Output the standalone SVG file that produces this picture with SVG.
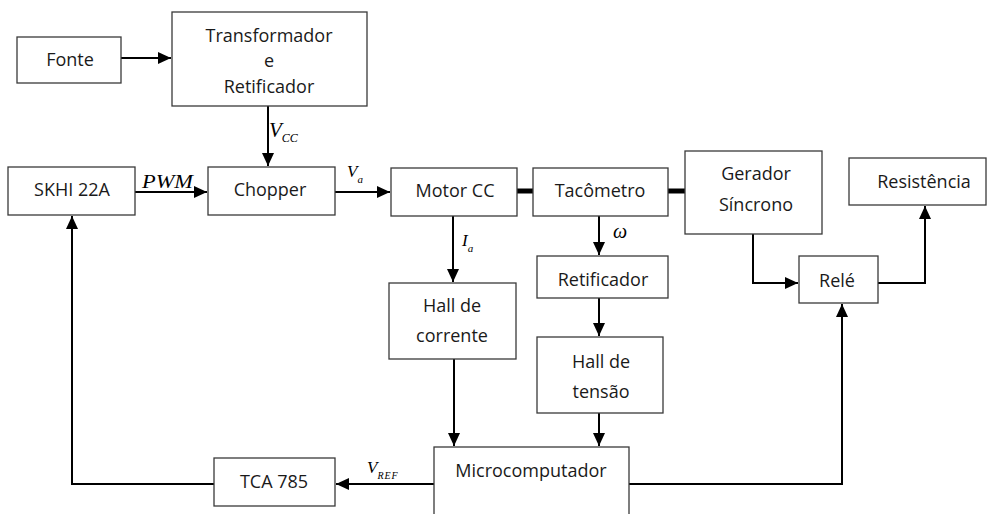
<svg xmlns="http://www.w3.org/2000/svg" width="987" height="514" viewBox="0 0 987 514">
<style>
.box{fill:#fff;stroke:#3a3a3a;stroke-width:1.3}
.t{font-family:"Open Sans","Liberation Sans",sans-serif;font-size:18px;fill:#1a1a1a;text-anchor:middle}
.m{font-family:"Liberation Serif",serif;font-style:italic;fill:#000}
.c{fill:none;stroke:#000;stroke-width:2}
.k{fill:none;stroke:#000;stroke-width:5}
</style>
<defs>
<marker id="ah" markerUnits="userSpaceOnUse" markerWidth="14" markerHeight="12" refX="13" refY="6" orient="auto">
<path d="M0,0 L13,6 L0,12 Z" fill="#000"/>
</marker>
</defs>
<rect width="987" height="514" fill="#fff"/>
<g id="connectors">
<path class="c" d="M121,58 H171" marker-end="url(#ah)"/>
<path class="c" d="M268,106 V166" marker-end="url(#ah)"/>
<path class="c" d="M135,192 H207" marker-end="url(#ah)"/>
<path class="c" d="M335,192 H390" marker-end="url(#ah)"/>
<path class="k" d="M517,191 H533"/>
<path class="k" d="M668,191 H685"/>
<path class="c" d="M453,216 V282" marker-end="url(#ah)"/>
<path class="c" d="M599,216 V255" marker-end="url(#ah)"/>
<path class="c" d="M599,298 V336" marker-end="url(#ah)"/>
<path class="c" d="M454,359 V446" marker-end="url(#ah)"/>
<path class="c" d="M599,413 V446" marker-end="url(#ah)"/>
<path class="c" d="M434,484 H336" marker-end="url(#ah)"/>
<path class="c" d="M214,484 H72 V216" marker-end="url(#ah)"/>
<path class="c" d="M753,234 V283 H798" marker-end="url(#ah)"/>
<path class="c" d="M878,283 H925 V206" marker-end="url(#ah)"/>
<path class="c" d="M629,484 H842 V304" marker-end="url(#ah)"/>
<text class="m" x="269" y="137" font-size="21">V<tspan font-size="12" dy="5">CC</tspan></text>
<text class="m" x="142" y="188" font-size="18" textLength="51" lengthAdjust="spacingAndGlyphs">PWM</text>
<text class="m" x="347" y="177" font-size="17">V<tspan font-size="11" dy="6">a</tspan></text>
<text class="m" x="462" y="246" font-size="17">I<tspan font-size="11" dy="6">a</tspan></text>
<text class="m" x="613" y="238" font-size="20">ω</text>
<text class="m" x="367" y="473" font-size="17">V<tspan font-size="10" dy="6" letter-spacing="1">REF</tspan></text>
</g>
<g id="fonte"><rect class="box" x="17" y="37" width="104" height="46"/><text class="t" x="70" y="66">Fonte</text></g>
<g id="transformador"><rect class="box" x="172" y="12" width="195" height="94"/><text class="t" x="269" y="42">Transformador</text><text class="t" x="269" y="67">e</text><text class="t" x="269" y="93">Retificador</text></g>
<g id="skhi"><rect class="box" x="8" y="167" width="127" height="48"/><text class="t" x="72" y="196">SKHI 22A</text></g>
<g id="chopper"><rect class="box" x="208" y="167" width="127" height="48"/><text class="t" x="270" y="196">Chopper</text></g>
<g id="motor"><rect class="box" x="391" y="168" width="126" height="48"/><text class="t" x="455" y="197">Motor CC</text></g>
<g id="tacometro"><rect class="box" x="533" y="168" width="135" height="48"/><text class="t" x="600" y="197">Tacômetro</text></g>
<g id="gerador"><rect class="box" x="685" y="151" width="137" height="83"/><text class="t" x="756" y="180">Gerador</text><text class="t" x="756" y="211">Síncrono</text></g>
<g id="resistencia"><rect class="box" x="849" y="158" width="137" height="47"/><text class="t" x="924" y="188">Resistência</text></g>
<g id="rele"><rect class="box" x="799" y="256" width="79" height="47"/><text class="t" x="837" y="287">Relé</text></g>
<g id="retificador"><rect class="box" x="537" y="256" width="131" height="42"/><text class="t" x="603" y="286">Retificador</text></g>
<g id="hallcorrente"><rect class="box" x="389" y="283" width="127" height="76"/><text class="t" x="452" y="312">Hall de</text><text class="t" x="452" y="342">corrente</text></g>
<g id="halltensao"><rect class="box" x="537" y="337" width="126" height="76"/><text class="t" x="601" y="368">Hall de</text><text class="t" x="601" y="398">tensão</text></g>
<g id="micro"><rect class="box" x="434" y="447" width="195" height="90"/><text class="t" x="531" y="477">Microcomputador</text></g>
<g id="tca"><rect class="box" x="214" y="458" width="121" height="48"/><text class="t" x="274" y="488">TCA 785</text></g>
</svg>
